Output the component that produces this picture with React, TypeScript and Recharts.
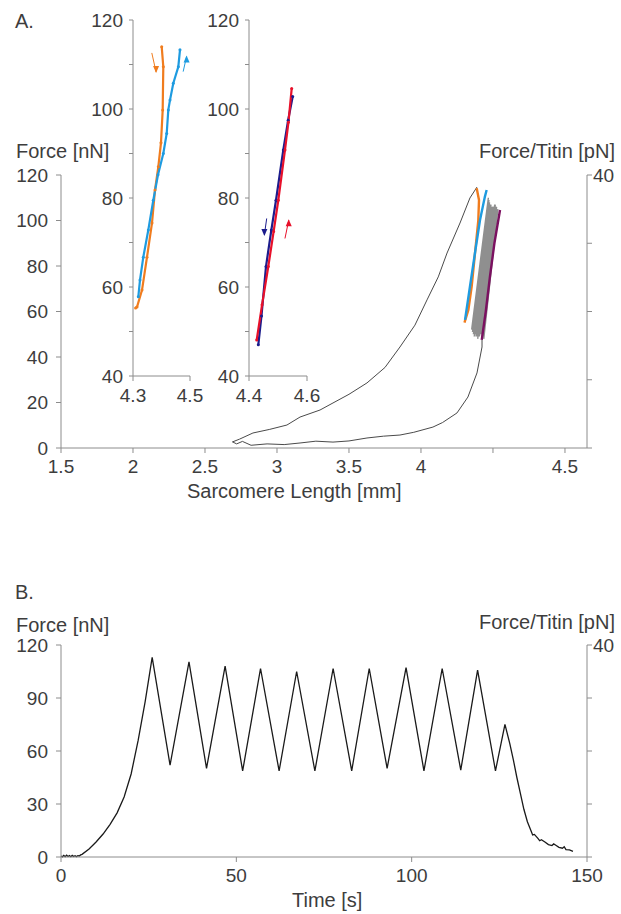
import React from "react";
import { LineChart, Line, XAxis, YAxis } from "recharts";

const FONT = '"Liberation Sans", Arial, sans-serif';
const INK = "#3d3d3d";
const AX = "#8c8c8c";

// ---- panel A: whole protocol on the main axes ----
const slTicks = [1.5, 2, 2.5, 3, 3.5, 4, 4.5, 5];
const slTickLabels = ["1.5", "2", "2.5", "3", "3.5", "4", "", "4.5"];
const forceTicksA = [0, 20, 40, 60, 80, 100, 120];
const titinTicks = [0, 10, 20, 30, 40];
const titinRange = [0, 40];

const rampUpSL = [2.688, 2.74, 2.833, 2.95, 3.069, 3.16, 3.299, 3.389, 3.5, 3.625, 3.75, 3.854, 3.958, 4.042, 4.12, 4.181, 4.271, 4.34, 4.389];
const rampUpF = [2.6, 3.9, 6.6, 8.2, 10.1, 13.6, 16.7, 19.8, 23.6, 28.6, 35.4, 44.4, 54.0, 65.1, 75.2, 85.7, 98.9, 109.9, 114.7];

const rampDownSL = [4.424, 4.424, 4.389, 4.326, 4.25, 4.15, 4.083, 3.95, 3.854, 3.74, 3.625, 3.5, 3.389, 3.27, 3.16, 3.05, 2.931, 2.82, 2.76, 2.72, 2.694];
const rampDownF = [47.5, 44.4, 33.0, 22.4, 15.4, 11.2, 9.2, 6.9, 5.7, 5.2, 4.4, 3.1, 2.6, 3.0, 2.2, 1.5, 1.8, 1.2, 2.9, 1.8, 2.6];

// repeated stretch/release cycles (grey band)
const cloudSL = [4.352, 4.468, 4.358, 4.472, 4.364, 4.476, 4.37, 4.48, 4.376, 4.486, 4.382, 4.492, 4.388, 4.497, 4.394, 4.502, 4.4, 4.507, 4.406, 4.512, 4.412, 4.516, 4.418, 4.52, 4.424, 4.525, 4.43, 4.53, 4.436, 4.534];
const cloudF = [52, 110, 51, 109, 50, 108, 49, 107, 50, 107, 49, 106, 49, 106, 48, 106, 49, 106, 49, 107, 50, 107, 50, 106, 49, 106, 49, 105, 48, 105];

const orangeSL = [4.387, 4.403, 4.398, 4.375, 4.352, 4.329, 4.302];
const orangeF = [114.2, 109, 100, 85.5, 70.9, 60.7, 55.1];
const blueSL = [4.306, 4.34, 4.375, 4.41, 4.444, 4.456];
const blueF = [56.3, 70.9, 85.7, 100.2, 110.5, 113.4];
const purpleSL = [4.422, 4.45, 4.479, 4.51, 4.549];
const purpleF = [47.5, 60, 75.3, 90, 104.6];

// ---- panel A insets ----
const insetForceTicks = [40, 50, 60, 70, 80, 90, 100, 110, 120];

const in1OrangeSL = [4.4007, 4.4063, 4.4042, 4.3982, 4.3888, 4.3772, 4.3667, 4.3491, 4.3316, 4.314, 4.309];
const in1OrangeF = [114.0, 109.5, 99.8, 92.4, 87.0, 81.8, 74.4, 66.7, 59.3, 55.5, 55.3];
const in1BlueSL = [4.3186, 4.3246, 4.3361, 4.3537, 4.3712, 4.3877, 4.4063, 4.4183, 4.4239, 4.4298, 4.4414, 4.459, 4.4649];
const in1BlueF = [57.8, 61.6, 66.7, 72.8, 79.5, 85.2, 90.0, 94.5, 99.8, 102.0, 105.8, 109.5, 113.3];

const in2RedSL = [4.4266, 4.445, 4.4665, 4.485, 4.501, 4.5241, 4.536, 4.5472];
const in2RedF = [48.1, 56.0, 64.6, 72.5, 79.5, 90.8, 97.0, 104.6];
const in2NavySL = [4.4321, 4.443, 4.4586, 4.477, 4.4931, 4.5183, 4.535, 4.5507];
const in2NavyF = [47.0, 53.5, 64.6, 72.8, 79.5, 90.8, 97.5, 102.8];

const in1OrangeArrowSL = [4.366, 4.381];
const in1OrangeArrowF = [112.6, 108.3];
const in1BlueArrowSL = [4.476, 4.488];
const in1BlueArrowF = [108.4, 111.8];
const in2NavyArrowSL = [4.461, 4.453];
const in2NavyArrowF = [75.4, 71.7];
const in2RedArrowSL = [4.524, 4.537];
const in2RedArrowF = [70.9, 75.0];

// ---- panel B: force vs time ----
const timeTicks = [0, 50, 100, 150];
const forceTicksB = [0, 30, 60, 90, 120];
const timeS = [
  0, 0.4, 0.8, 1.2, 1.6, 2.0, 2.4, 2.8, 3.2, 3.6, 4.0, 4.4, 4.8, 5.2, 5.6,
  6, 8, 10, 12, 14, 16, 18, 20, 22, 24, 26,
  31.1, 36.5, 41.5, 46.8, 51.8, 56.9, 62.2, 67.2, 72.4, 77.6, 82.9, 87.9, 93.0, 98.4,
  103.5, 108.7, 114.0, 118.8, 123.9, 126.6,
  128, 129, 130, 131, 132, 133, 134, 134.5, 135, 136, 136.5, 137, 138, 139, 140, 140.5, 141, 142, 143, 143.5, 144, 145, 146,
];
const forceB = [
  0.6, 0.1, 0.9, 0.2, 1.0, 0.3, 0.8, 0.2, 0.9, 0.3, 0.7, 0.2, 0.8, 0.6, 1.2,
  1.5, 4.5, 8.5, 13, 18.5, 25, 34, 47, 66, 88, 113,
  52, 110.5, 50.2, 108, 48.7, 106.7, 48.7, 105, 48.7, 106.7, 48.8, 106.7, 50.2, 107.2,
  48.8, 106.7, 49.2, 105.8, 48.8, 75.1,
  64, 55, 45, 36, 27, 20, 15, 12.5, 12.8, 10.5, 9.2, 9.8, 8.5, 7, 6.5, 7.4, 6.8, 5.5, 5, 5.8, 4.2, 4, 3.2,
];

const xy = (xs: number[], ys: number[]) => xs.map((x, i) => ({ x, y: ys[i] }));

const tickStyle = { fill: INK, fontSize: 19, fontFamily: FONT };

const arrowHead = (color: string, down: boolean) => (p: any) => {
  if (p.index !== 1) return <g key={`a${p.index}`} />;
  const { cx, cy } = p;
  const d = down
    ? `M${cx - 3},${cy - 6} L${cx + 3},${cy - 6} L${cx},${cy + 1} Z`
    : `M${cx - 3},${cy + 6} L${cx + 3},${cy + 6} L${cx},${cy - 1} Z`;
  return <path key={`a${p.index}`} d={d} fill={color} />;
};

function Text({ x, y, children, right }: { x: number; y: number; children: React.ReactNode; right?: boolean }) {
  return (
    <div
      style={{
        position: "absolute",
        top: y,
        left: right ? undefined : x,
        right: right ? 621 - x : undefined,
        fontSize: 20,
        lineHeight: 1,
        whiteSpace: "nowrap",
        color: INK,
      }}
    >
      {children}
    </div>
  );
}

function TitinAxis() {
  return (
    <YAxis
      yAxisId="t"
      orientation="right"
      domain={[0, 40]}
      ticks={titinTicks}
      width={34}
      tick={tickStyle}
      tickFormatter={(v: number) => (v === 40 ? "40" : "")}
      tickSize={5}
      tickMargin={1}
      axisLine={{ stroke: AX }}
      tickLine={{ stroke: AX }}
    />
  );
}

function MainA() {
  return (
    <LineChart width={621} height={520} margin={{ top: 175, right: 0, bottom: 42, left: 11 }}>
      <XAxis
        type="number"
        dataKey="x"
        domain={[1.5, 5.153]}
        ticks={slTicks}
        allowDataOverflow
        tickFormatter={(v: number) => slTickLabels[slTicks.indexOf(v)] ?? ""}
        height={30}
        tick={tickStyle}
        tickSize={5}
        tickMargin={7}
        axisLine={{ stroke: AX }}
        tickLine={{ stroke: AX }}
      />
      <YAxis
        yAxisId="f"
        domain={[0, 120]}
        ticks={forceTicksA}
        width={50}
        tick={tickStyle}
        tickSize={5}
        tickMargin={8}
        axisLine={{ stroke: AX }}
        tickLine={{ stroke: AX }}
      />
      {TitinAxis()}
      <Line yAxisId="t" data={xy([1.5, 1.5], titinRange)} dataKey="y" stroke="none" dot={false} isAnimationActive={false} />
      <Line yAxisId="f" data={xy(rampUpSL, rampUpF)} dataKey="y" stroke="#4a4a4a" strokeWidth={1} dot={false} isAnimationActive={false} />
      <Line yAxisId="f" data={xy(rampDownSL, rampDownF)} dataKey="y" stroke="#4a4a4a" strokeWidth={1} dot={false} isAnimationActive={false} />
      <Line yAxisId="f" data={xy(cloudSL, cloudF)} dataKey="y" stroke="#6a6a6a" strokeOpacity={0.75} strokeWidth={1.4} dot={false} isAnimationActive={false} />
      <Line yAxisId="f" data={xy(orangeSL, orangeF)} dataKey="y" stroke="#f07c1e" strokeWidth={2.4} dot={false} isAnimationActive={false} />
      <Line yAxisId="f" data={xy(blueSL, blueF)} dataKey="y" stroke="#1e9be0" strokeWidth={2.4} dot={false} isAnimationActive={false} />
      <Line yAxisId="f" data={xy(purpleSL, purpleF)} dataKey="y" stroke="#7b1060" strokeWidth={2.4} dot={false} isAnimationActive={false} />
    </LineChart>
  );
}

type Trace = { xs: number[]; ys: number[]; color: string };
type Arrow = { xs: number[]; ys: number[]; color: string; down: boolean };

function Inset({ domain, ticks, traces, arrows, right }: { domain: number[]; ticks: number[]; traces: Trace[]; arrows: Arrow[]; right: number }) {
  return (
    <LineChart width={135} height={420} margin={{ top: 20, right, bottom: 14, left: 8 }}>
      <XAxis
        type="number"
        dataKey="x"
        domain={domain}
        ticks={ticks}
        allowDataOverflow
        height={30}
        tick={tickStyle}
        tickSize={5}
        tickMargin={8}
        axisLine={{ stroke: AX }}
        tickLine={{ stroke: AX }}
      />
      <YAxis
        domain={[40, 120]}
        ticks={insetForceTicks}
        width={45}
        tick={tickStyle}
        tickFormatter={(v: number) => (v % 20 === 0 ? String(v) : "")}
        tickSize={4}
        tickMargin={6}
        axisLine={{ stroke: AX }}
        tickLine={{ stroke: AX }}
      />
      {traces.map((t, i) => (
        <Line
          key={i}
          data={xy(t.xs, t.ys)}
          dataKey="y"
          stroke={t.color}
          strokeWidth={2.2}
          dot={{ r: 1.5, fill: t.color, stroke: "none" }}
          isAnimationActive={false}
        />
      ))}
      {arrows.map((a, i) => (
        <Line
          key={`ar${i}`}
          data={xy(a.xs, a.ys)}
          dataKey="y"
          stroke={a.color}
          strokeWidth={1}
          dot={arrowHead(a.color, a.down)}
          isAnimationActive={false}
        />
      ))}
    </LineChart>
  );
}

function PanelB() {
  return (
    <LineChart width={621} height={340} margin={{ top: 85, right: 0, bottom: 13, left: 11 }}>
      <XAxis
        type="number"
        dataKey="x"
        domain={[0, 150]}
        ticks={timeTicks}
        height={30}
        tick={tickStyle}
        tickSize={5}
        tickMargin={7}
        axisLine={{ stroke: AX }}
        tickLine={{ stroke: AX }}
      />
      <YAxis
        yAxisId="f"
        domain={[0, 120]}
        ticks={forceTicksB}
        width={50}
        tick={tickStyle}
        tickSize={5}
        tickMargin={8}
        axisLine={{ stroke: AX }}
        tickLine={{ stroke: AX }}
      />
      {TitinAxis()}
      <Line yAxisId="t" data={xy([0, 0], titinRange)} dataKey="y" stroke="none" dot={false} isAnimationActive={false} />
      <Line yAxisId="f" data={xy(timeS, forceB)} dataKey="y" stroke="#1a1a1a" strokeWidth={1.3} dot={false} isAnimationActive={false} />
    </LineChart>
  );
}

export default function App() {
  return (
    <div style={{ position: "relative", width: 621, height: 914, background: "#fff", fontFamily: FONT, overflow: "hidden" }}>
      <style>{"body{margin:0}"}</style>
      <div style={{ position: "absolute", left: 0, top: 0 }}>
        <MainA />
      </div>
      <div style={{ position: "absolute", left: 80, top: 0 }}>
        <Inset
          domain={[4.3, 4.5]}
          ticks={[4.3, 4.5]}
          right={25}
          traces={[
            { xs: in1OrangeSL, ys: in1OrangeF, color: "#f07c1e" },
            { xs: in1BlueSL, ys: in1BlueF, color: "#1e9be0" },
          ]}
          arrows={[
            { xs: in1OrangeArrowSL, ys: in1OrangeArrowF, color: "#f07c1e", down: true },
            { xs: in1BlueArrowSL, ys: in1BlueArrowF, color: "#1e9be0", down: false },
          ]}
        />
      </div>
      <div style={{ position: "absolute", left: 196, top: 0 }}>
        <Inset
          domain={[4.4, 4.6]}
          ticks={[4.4, 4.6]}
          right={24}
          traces={[
            { xs: in2NavySL, ys: in2NavyF, color: "#1c1c8c" },
            { xs: in2RedSL, ys: in2RedF, color: "#e8102a" },
          ]}
          arrows={[
            { xs: in2NavyArrowSL, ys: in2NavyArrowF, color: "#1c1c8c", down: true },
            { xs: in2RedArrowSL, ys: in2RedArrowF, color: "#e8102a", down: false },
          ]}
        />
      </div>
      <div style={{ position: "absolute", left: 0, top: 560 }}>
        <PanelB />
      </div>
      <Text x={15} y={11}>A.</Text>
      <Text x={16} y={141}>Force [nN]</Text>
      <Text x={615} y={141} right>Force/Titin [pN]</Text>
      <Text x={187} y={481}>Sarcomere Length [mm]</Text>
      <Text x={15} y={582}>B.</Text>
      <Text x={16} y={615}>Force [nN]</Text>
      <Text x={615} y={612} right>Force/Titin [pN]</Text>
      <Text x={292} y={890}>Time [s]</Text>
    </div>
  );
}
